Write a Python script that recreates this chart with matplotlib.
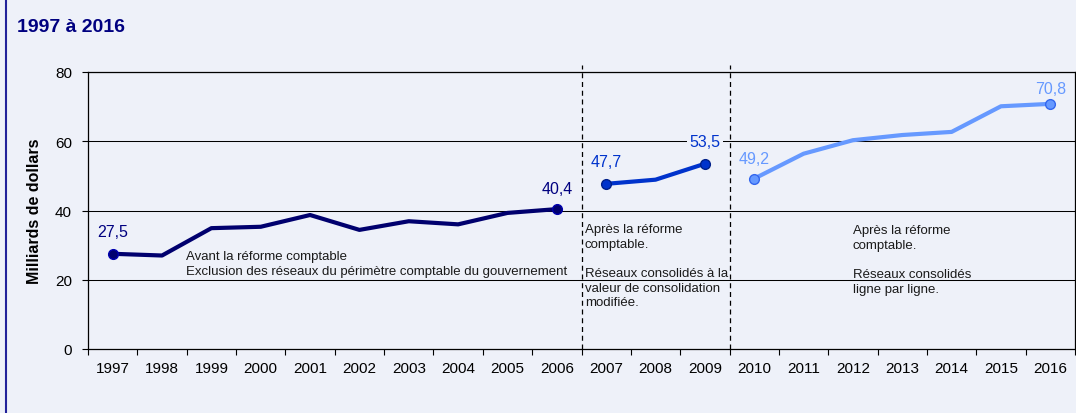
import matplotlib
matplotlib.use("Agg")
import matplotlib.pyplot as plt
from matplotlib.lines import Line2D

plt.rcParams['font.family'] = ['Liberation Sans', 'DejaVu Sans']

# Données (milliards de dollars)
years = [str(y) for y in range(1997, 2017)]
avant_reforme = [27.5, 27.0, 34.9, 35.3, 38.7, 34.4, 36.9, 36.0, 39.3, 40.4]
apres_valeur_conso = [47.7, 48.9, 53.5]
apres_ligne_par_ligne = [49.2, 56.4, 60.3, 61.8, 62.7, 70.1, 70.8]

yticks = [0, 20, 40, 60, 80]

W, H = 1076, 414
BG = '#EEF1F9'
fig = plt.figure(figsize=(W / 100, H / 100), dpi=100, facecolor=BG)
ax = fig.add_axes([88 / W, 1 - 350 / H, (1075 - 88) / W, (350 - 73) / H])
ax.set_facecolor(BG)

n = len(years)
x = list(range(n))
ax.set_xlim(-0.5, n - 0.5)
ax.set_ylim(0, 80)

# Grille horizontale
for yv in yticks[1:]:
    ax.axhline(yv, color='black', lw=0.75, zorder=1)

# Séries
segments = [
    (x[0:10], avant_reforme, '#00006E', '#00006E', '#0000B0', '#000080'),
    (x[10:13], apres_valeur_conso, '#0033CC', '#0033CC', '#00208A', '#0033CC'),
    (x[13:20], apres_ligne_par_ligne, '#6699FF', '#6699FF', '#3366EE', '#6699FF'),
]
label_offsets = {0: 22, 9: 21, 10: 22, 12: 22, 13: 20, 19: 15}
for xs, ys, lc, mfc, mec, tc in segments:
    ax.plot(xs, ys, color=lc, lw=3.0, solid_capstyle='butt', zorder=3)
    ends_x = [xs[0], xs[-1]]
    ends_y = [ys[0], ys[-1]]
    ax.plot(ends_x, ends_y, ls='none', marker='o', ms=7, mfc=mfc, mec=mec,
            mew=1.0, zorder=4)
    for xi, yi in zip(ends_x, ends_y):
        off = label_offsets.get(xi, 21)
        bbox = None
        if xi == 12:
            bbox = dict(boxstyle='square,pad=0.15', fc=BG, ec='none')
        ax.annotate(f"{yi:.1f}".replace('.', ','), (xi, yi),
                    xytext=(0, off * 0.72), textcoords='offset points',
                    ha='center', va='center', fontsize=11.5, color=tc,
                    bbox=bbox, zorder=5)

# Séparateurs verticaux (changements de méthode)
for xb in (9.5, 12.5):
    ax.plot([xb, xb], [0, 82], color='black', lw=0.9, ls=(0, (4, 3)),
            clip_on=False, zorder=2)

# Axes
ax.set_yticks(yticks)
ax.set_yticklabels([str(v) for v in yticks], fontsize=11)
ax.set_xticks([i - 0.5 for i in range(n + 1)])
ax.set_xticklabels([])
ax.set_xticks(x, minor=True)
ax.set_xticklabels(years, minor=True, fontsize=11)
ax.tick_params(axis='x', which='major', direction='out', length=4, width=0.8)
ax.tick_params(axis='x', which='minor', length=0, pad=9)
ax.tick_params(axis='y', direction='out', length=4.5, width=0.8, pad=7)
for s in ax.spines.values():
    s.set_color('black')
    s.set_linewidth(0.9)

ax.set_ylabel('Milliards de dollars', fontsize=11.5, fontweight='bold',
              labelpad=0)
ax.yaxis.set_label_coords(-(88 - 42) / (1075 - 88), 0.5)

# Notes explicatives
note_kw = dict(fontsize=9.5, color='#1A1A1A', va='top', ha='left',
               linespacing=1.3)
ax.text(1.49, 80 - (251 - 73) / 3.4625,
        "Avant la réforme comptable\n"
        "Exclusion des réseaux du périmètre comptable du gouvernement",
        **note_kw)
ax.text(9.57, 80 - (224 - 73) / 3.4625,
        "Après la réforme\ncomptable.\n\nRéseaux consolidés à la\n"
        "valeur de consolidation\nmodifiée.", **note_kw)
ax.text(15.0, 80 - (225 - 73) / 3.4625,
        "Après la réforme\ncomptable.\n\nRéseaux consolidés\nligne par ligne.",
        **note_kw)

# Titre et bordure
fig.text(17 / W, 1 - 27 / H, '1997 à 2016', fontsize=14, fontweight='bold',
         color='#000080', va='center', ha='left')
fig.add_artist(Line2D([6 / W, 6 / W], [0, 1], color='#22229A', lw=1.5,
                      transform=fig.transFigure))

fig.savefig('out.png', dpi=100, facecolor=BG)
